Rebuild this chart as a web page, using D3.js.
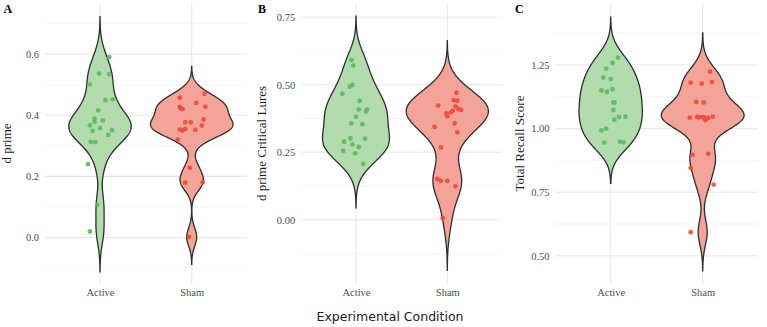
<!DOCTYPE html>
<html>
<head>
<meta charset="utf-8">
<script src="https://cdn.jsdelivr.net/npm/d3@7"></script>
<style>
  html, body { margin: 0; padding: 0; background: #fff; }
  svg { display: block; }
</style>
</head>
<body>
<div id="chart"></div>
<script>
// ── Data ──────────────────────────────────────────────────────────────────────
const CONDITIONS = ["Active", "Sham"];

// A: d prime
const dprimeActive = [0.590, 0.536, 0.534, 0.501, 0.449, 0.452, 0.416, 0.389, 0.383, 0.378,
                      0.367, 0.358, 0.349, 0.351, 0.336, 0.313, 0.312, 0.240, 0.108, 0.020];
const dprimeActiveJit = [0.10, -0.01, 0.10, -0.11, 0.06, 0.14, -0.02, -0.06, 0.03, -0.06,
                         -0.11, 0.00, -0.08, 0.13, 0.09, -0.10, -0.05, -0.13, -0.03, -0.11];
const dprimeSham   = [0.470, 0.457, 0.440, 0.428, 0.427, 0.422, 0.420, 0.386, 0.377, 0.377,
                      0.366, 0.353, 0.350, 0.355, 0.352, 0.320, 0.228, 0.180, 0.181, 0.002];
const dprimeShamJit = [0.14, -0.13, 0.05, 0.15, -0.13, -0.12, -0.10, 0.13, -0.07, -0.01,
                       0.11, -0.13, -0.10, -0.07, 0.04, -0.15, -0.02, -0.07, 0.12, -0.03];

// B: d prime critical lures
const lureActive = [0.591, 0.571, 0.500, 0.493, 0.467, 0.440, 0.409, 0.408, 0.401, 0.382,
                    0.357, 0.354, 0.302, 0.300, 0.289, 0.279, 0.270, 0.255, 0.246, 0.207];
const lureActiveJit = [-0.05, -0.03, -0.04, -0.07, -0.15, 0.04, 0.03, 0.12, 0.11, 0.00,
                       -0.05, 0.07, -0.06, 0.10, -0.13, -0.04, 0.03, -0.14, -0.01, 0.08];
const lureSham   = [0.470, 0.443, 0.441, 0.423, 0.420, 0.411, 0.404, 0.407, 0.394, 0.383,
                    0.398, 0.357, 0.344, 0.324, 0.268, 0.151, 0.144, 0.144, 0.124, 0.006];
const lureShamJit = [0.10, 0.07, 0.11, -0.10, 0.09, 0.12, 0.06, 0.15, -0.01, 0.00,
                     0.04, 0.08, -0.14, 0.11, -0.07, -0.11, -0.07, 0.00, 0.09, -0.05];

// C: total recall score
const recallActive = [1.279, 1.258, 1.236, 1.201, 1.195, 1.150, 1.144, 1.155, 1.103, 1.103,
                      1.073, 1.035, 1.046, 1.047, 0.993, 1.000, 0.945, 0.949, 0.946];
const recallActiveJit = [0.08, 0.02, -0.05, -0.08, 0.00, -0.10, -0.04, 0.02, 0.04, 0.03,
                         0.03, 0.04, 0.09, 0.16, -0.10, -0.05, -0.07, 0.10, 0.14];
const recallSham   = [1.224, 1.181, 1.177, 1.183, 1.105, 1.103, 1.043, 1.046, 1.044, 1.043,
                      1.045, 1.034, 1.042, 1.047, 0.897, 0.901, 0.845, 0.780, 0.593];
const recallShamJit = [0.08, -0.13, -0.01, 0.10, -0.07, 0.01, -0.14, -0.06, -0.04, 0.02,
                       0.00, 0.03, 0.06, 0.11, -0.11, 0.06, -0.13, 0.12, -0.13];

// Axis ticks
const ticksA = [0, 0.2, 0.4, 0.6],      minorA = [-0.1, 0.1, 0.3, 0.5, 0.7];
const ticksB = [0, 0.25, 0.5, 0.75],    minorB = [-0.125, 0.125, 0.375, 0.625];
const ticksC = [0.5, 0.75, 1.0, 1.25],  minorC = [0.625, 0.875, 1.125, 1.375];

// ── Style ─────────────────────────────────────────────────────────────────────
const FILL  = { Active: "#b2dbae", Sham: "#f4a398" };
const POINT = { Active: "#5cba5f", Sham: "#ee4a3b" };
const SERIF = "'Liberation Serif', 'Times New Roman', serif";
const SANS  = "'DejaVu Sans', sans-serif";

const W = 767, H = 327;
const TOP = 3.5, BOTTOM = 283.5;

const PANELS = [
  { tag: "A", title: "d prime", left: 45, right: 246.7, tagX: 3.5, titleX: 11,
    domain: [-0.15, 0.765], ticks: ticksA, minor: minorA, fmt: ".1f",
    groups: { Active: [dprimeActive, dprimeActiveJit], Sham: [dprimeSham, dprimeShamJit] } },
  { tag: "B", title: "d prime Critical Lures", left: 301.2, right: 502.1, tagX: 258, titleX: 266,
    domain: [-0.236, 0.801], ticks: ticksB, minor: minorB, fmt: ".2f",
    groups: { Active: [lureActive, lureActiveJit], Sham: [lureSham, lureShamJit] } },
  { tag: "C", title: "Total Recall Score", left: 555.5, right: 757.9, tagX: 515, titleX: 523.5,
    domain: [0.391, 1.492], ticks: ticksC, minor: minorC, fmt: ".2f",
    groups: { Active: [recallActive, recallActiveJit], Sham: [recallSham, recallShamJit] } },
];

// ── SVG ───────────────────────────────────────────────────────────────────────
const svg = d3.select("#chart").append("svg")
  .attr("width", W).attr("height", H);

// ── Density helper (gaussian KDE, nrd0 bandwidth, cut = 3) ───────────────────
function violinProfile(values) {
  const sorted = values.slice().sort(d3.ascending);
  const n = sorted.length;
  const iqr = d3.quantile(sorted, 0.75) - d3.quantile(sorted, 0.25);
  const bw = 0.9 * Math.min(d3.deviation(sorted), iqr / 1.34) * Math.pow(n, -0.2);
  const lo = sorted[0] - 3 * bw, hi = sorted[n - 1] + 3 * bw;
  return d3.range(512).map(i => {
    const y = lo + (hi - lo) * i / 511;
    const dens = d3.mean(sorted, x => Math.exp(-0.5 * ((y - x) / bw) ** 2)) / (bw * Math.sqrt(2 * Math.PI));
    return [y, dens];
  });
}

// ── Panels ────────────────────────────────────────────────────────────────────
PANELS.forEach(p => {
  const g = svg.append("g");
  const x = d3.scalePoint().domain(CONDITIONS).range([p.left, p.right]).padding(0.6);
  const y = d3.scaleLinear().domain(p.domain).range([BOTTOM, TOP]);

  // grid
  g.append("g").selectAll("line").data(p.minor).join("line")
    .attr("x1", p.left).attr("x2", p.right)
    .attr("y1", d => y(d)).attr("y2", d => y(d))
    .attr("stroke", "#f0f0f0").attr("stroke-width", 0.6);
  g.append("g").selectAll("line").data(p.ticks).join("line")
    .attr("x1", p.left).attr("x2", p.right)
    .attr("y1", d => y(d)).attr("y2", d => y(d))
    .attr("stroke", "#e8e8e8").attr("stroke-width", 1.1);
  g.append("g").selectAll("line").data(CONDITIONS).join("line")
    .attr("x1", d => x(d)).attr("x2", d => x(d))
    .attr("y1", TOP).attr("y2", BOTTOM)
    .attr("stroke", "#e8e8e8").attr("stroke-width", 1.1);

  // axes (labels only)
  const yAxis = g.append("g").attr("transform", `translate(${p.left - 1},0)`)
    .call(d3.axisLeft(y).tickValues(p.ticks).tickFormat(d3.format(p.fmt)).tickSize(0).tickPadding(5));
  const xAxis = g.append("g").attr("transform", `translate(0,${BOTTOM})`)
    .call(d3.axisBottom(x).tickSize(0).tickPadding(5));
  [yAxis, xAxis].forEach(a => {
    a.select(".domain").remove();
    a.selectAll("text").style("font-family", SERIF).style("font-size", "10.5px").attr("fill", "#4d4d4d");
  });

  // violins
  const profiles = CONDITIONS.map(c => violinProfile(p.groups[c][0]));
  const maxDens = d3.max(profiles, pr => d3.max(pr, d => d[1]));
  const half = 0.45 * x.step();
  CONDITIONS.forEach((c, i) => {
    const cx = x(c);
    const area = d3.area()
      .y(d => y(d[0]))
      .x0(d => cx - half * d[1] / maxDens)
      .x1(d => cx + half * d[1] / maxDens);
    g.append("path").datum(profiles[i])
      .attr("d", area)
      .attr("fill", FILL[c])
      .attr("stroke", "#2e2e2e").attr("stroke-width", 1.3);
  });

  // jittered points
  CONDITIONS.forEach(c => {
    const [vals, jit] = p.groups[c];
    g.append("g").selectAll("circle").data(vals).join("circle")
      .attr("cx", (d, i) => x(c) + jit[i] * x.step())
      .attr("cy", d => y(d))
      .attr("r", 2.4)
      .attr("fill", POINT[c]).attr("fill-opacity", 0.9);
  });

  // y title and panel tag
  svg.append("text")
    .attr("transform", `translate(${p.titleX},${(TOP + BOTTOM) / 2}) rotate(-90)`)
    .attr("text-anchor", "middle")
    .style("font-family", SERIF).style("font-size", "13px").attr("fill", "#1a1a1a")
    .text(p.title);
  svg.append("text")
    .attr("x", p.tagX).attr("y", 13)
    .style("font-family", SERIF).style("font-size", "12px").style("font-weight", "bold")
    .attr("fill", "#000")
    .text(p.tag);
});

// ── Shared x title ────────────────────────────────────────────────────────────
svg.append("text")
  .attr("x", 390).attr("y", 320.5)
  .attr("text-anchor", "middle")
  .style("font-family", SANS).style("font-size", "12.5px").attr("fill", "#1a1a1a")
  .text("Experimental Condition");
</script>
</body>
</html>
